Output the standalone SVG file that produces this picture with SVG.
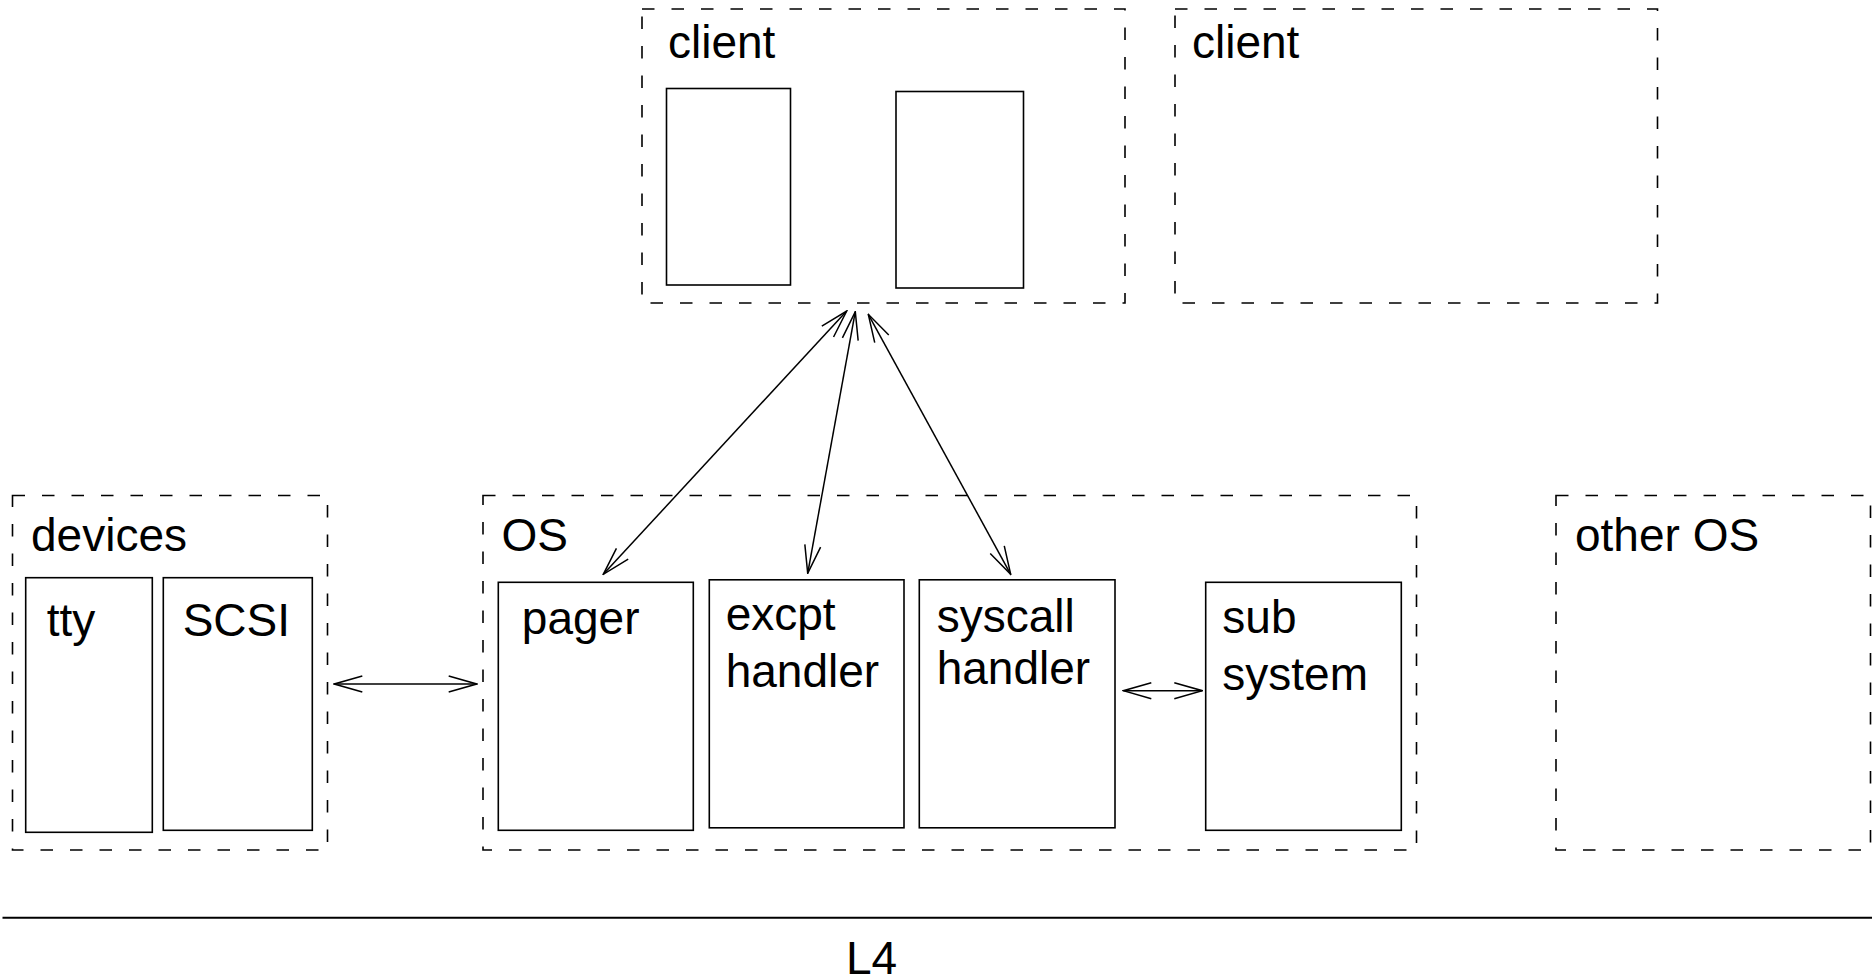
<svg xmlns="http://www.w3.org/2000/svg" width="1872" height="979" viewBox="0 0 1872 979">
<style>
.grp{fill:none;stroke:#000;stroke-width:1.6;stroke-dasharray:12.5 17}
.box{fill:#fff;stroke:#000;stroke-width:1.6}
.lbl{font-family:"Liberation Sans",Arial,sans-serif;font-size:46px;fill:#000}
.con{fill:none;stroke:#000;stroke-width:1.5}
</style>
<defs>
<marker id="ah" viewBox="0 0 30 20" refX="29" refY="10" markerWidth="30" markerHeight="20" markerUnits="userSpaceOnUse" orient="auto-start-reverse">
<path d="M1,2 L29,10 L1,18" fill="none" stroke="#000" stroke-width="1.5"/>
</marker>
</defs>
<rect width="1872" height="979" fill="#fff"/>
<g id="client1">
<rect class="grp" x="642" y="9" width="483" height="294"/>
<text class="lbl" x="668" y="58">client</text>
<rect class="box" x="666.5" y="88.5" width="124" height="196.5"/>
<rect class="box" x="896" y="91.5" width="127.5" height="196.5"/>
</g>
<g id="client2">
<rect class="grp" x="1175" y="9" width="482.5" height="294"/>
<text class="lbl" x="1192" y="58">client</text>
</g>
<g id="devices">
<rect class="grp" x="12.5" y="495.5" width="315" height="354.5"/>
<text class="lbl" x="31" y="550.5">devices</text>
</g>
<g id="tty">
<rect class="box" x="25.7" y="577.7" width="126.6" height="254.6"/>
<text class="lbl" x="46.7" y="636">tty</text>
</g>
<g id="scsi">
<rect class="box" x="163.3" y="577.7" width="149" height="252.6"/>
<text class="lbl" x="182.7" y="636">SCSI</text>
</g>
<g id="os">
<rect class="grp" x="483" y="495.5" width="933.5" height="354.5"/>
<text class="lbl" x="501.5" y="550.5">OS</text>
</g>
<g id="pager">
<rect class="box" x="498.3" y="582.3" width="195" height="248"/>
<text class="lbl" x="521.8" y="634">pager</text>
</g>
<g id="excpt">
<rect class="box" x="709.3" y="579.8" width="194.7" height="248"/>
<text class="lbl" x="725.7" y="630">excpt</text>
<text class="lbl" x="725.7" y="686.5">handler</text>
</g>
<g id="syscall">
<rect class="box" x="919.3" y="579.8" width="195.7" height="248"/>
<text class="lbl" x="936.7" y="631.5">syscall</text>
<text class="lbl" x="936.7" y="684">handler</text>
</g>
<g id="subsystem">
<rect class="box" x="1205.7" y="582.3" width="195.6" height="248"/>
<text class="lbl" x="1222.3" y="633.3">sub</text>
<text class="lbl" x="1222.3" y="690">system</text>
</g>
<g id="otheros">
<rect class="grp" x="1556" y="495.5" width="314.5" height="354.5"/>
<text class="lbl" x="1575" y="550.5">other OS</text>
</g>
<g id="l4">
<line x1="2.5" y1="917.7" x2="1872" y2="917.7" stroke="#000" stroke-width="2"/>
<text class="lbl" x="846" y="974">L4</text>
</g>
<g id="connectors">
<line class="con" x1="846.7" y1="311" x2="603.3" y2="574.3" marker-start="url(#ah)" marker-end="url(#ah)"/>
<line class="con" x1="855.3" y1="311.7" x2="807.7" y2="573.3" marker-start="url(#ah)" marker-end="url(#ah)"/>
<line class="con" x1="868.3" y1="314.3" x2="1010.7" y2="574.3" marker-start="url(#ah)" marker-end="url(#ah)"/>
<line class="con" x1="334.3" y1="684" x2="476.7" y2="684" marker-start="url(#ah)" marker-end="url(#ah)"/>
<line class="con" x1="1123.3" y1="690.7" x2="1202.3" y2="690.7" marker-start="url(#ah)" marker-end="url(#ah)"/>
</g>
</svg>
